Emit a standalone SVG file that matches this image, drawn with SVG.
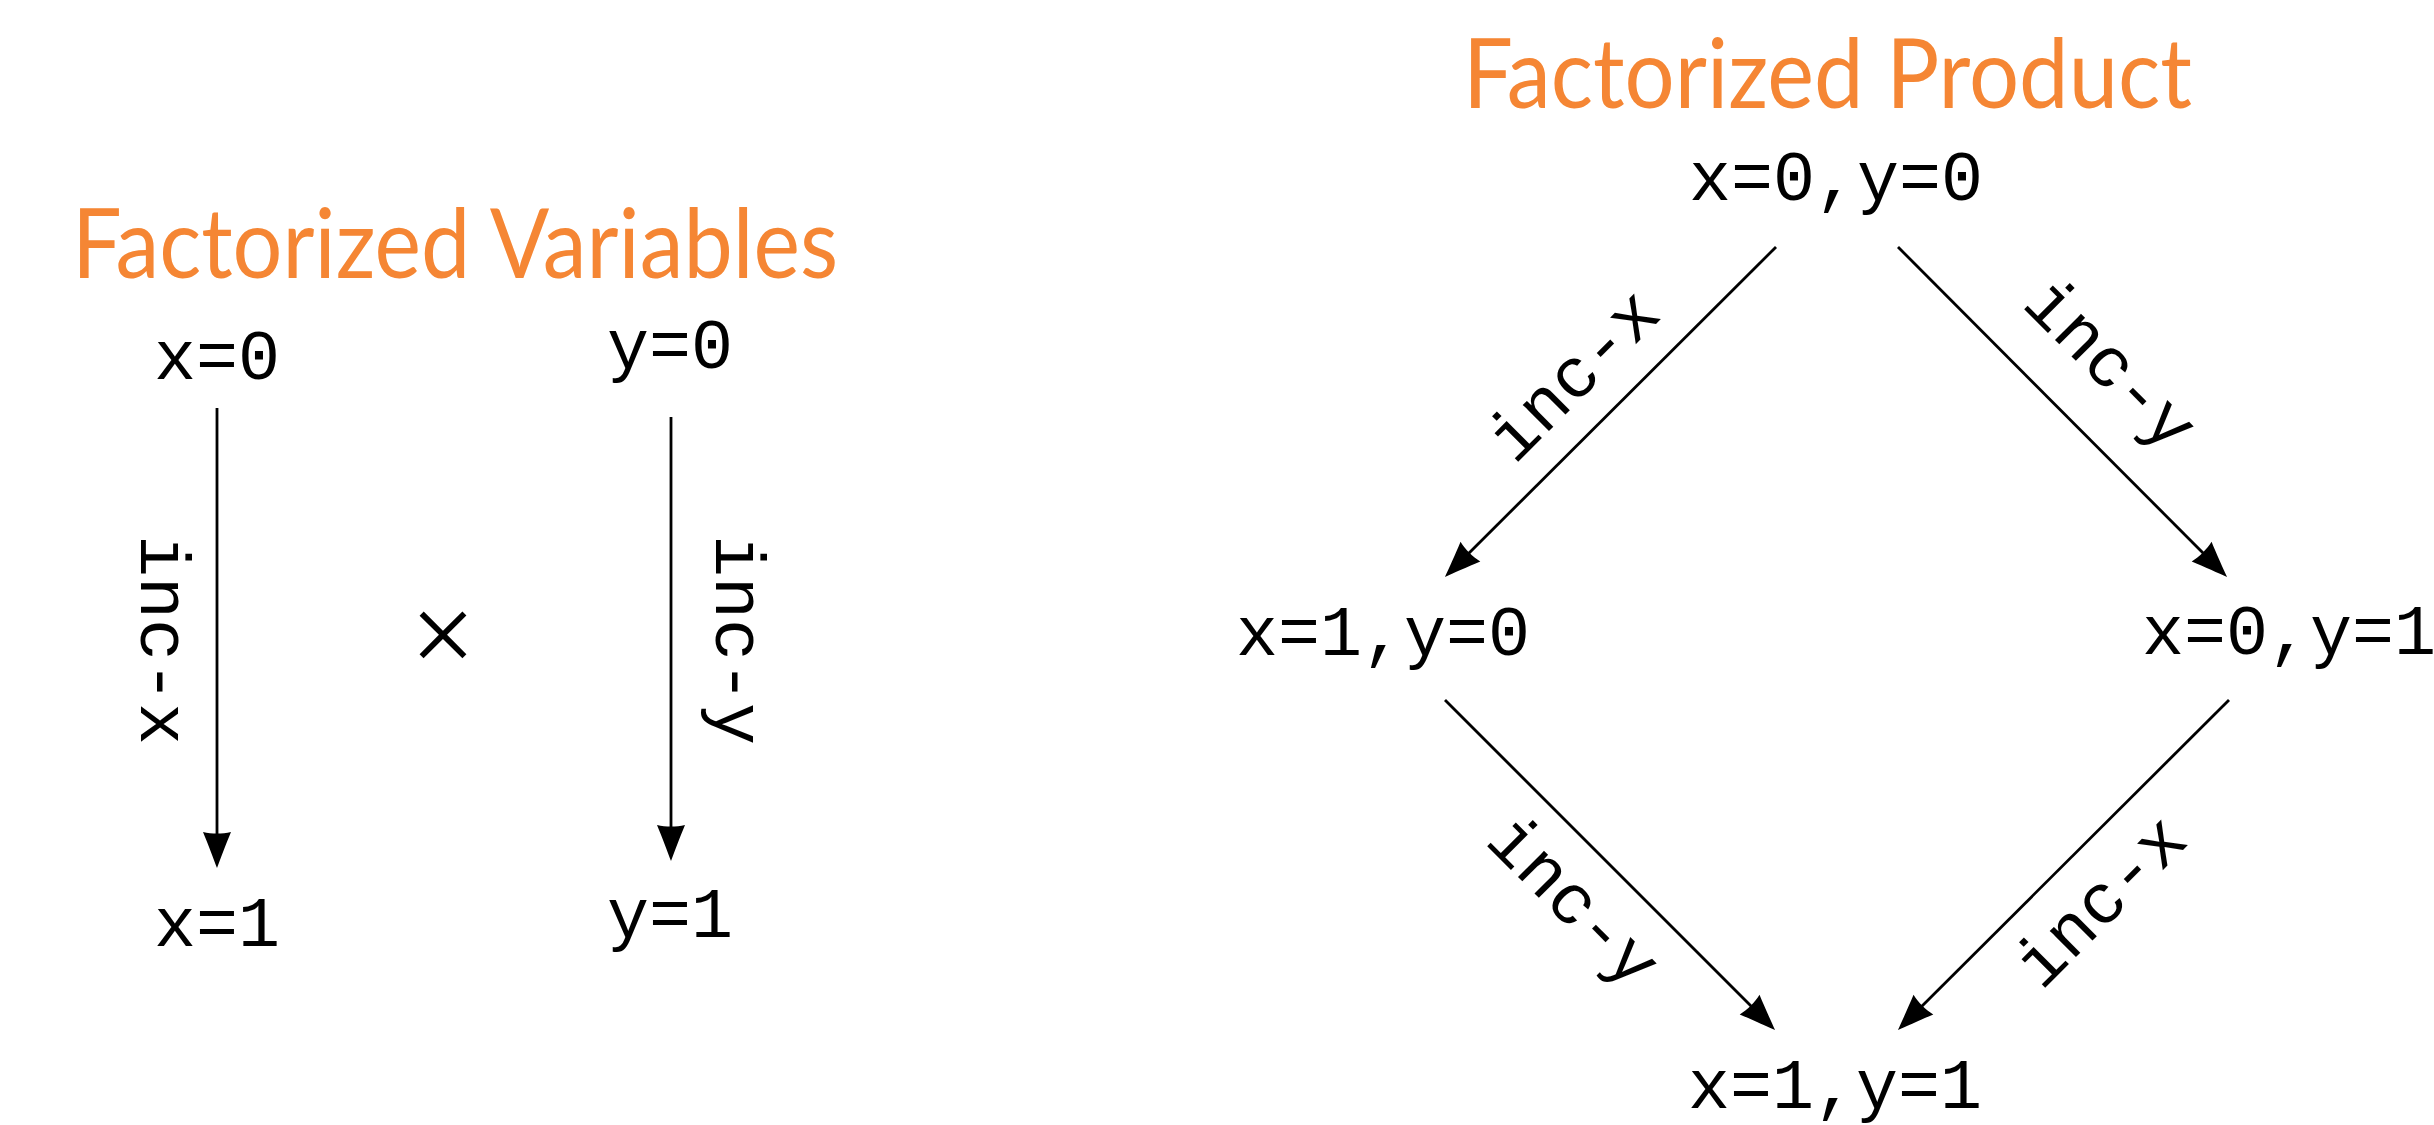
<svg xmlns="http://www.w3.org/2000/svg" width="2434" height="1125" viewBox="0 0 2434 1125">
<style>
.title{font-family:Lato,"Liberation Sans",sans-serif;font-size:97px;fill:#F58634}
.node{font-family:"Liberation Mono","DejaVu Sans Mono",monospace;font-size:70px;fill:#000;text-anchor:middle}
.lbl{font-family:"Liberation Mono","DejaVu Sans Mono",monospace;font-size:70px;fill:#000;text-anchor:middle}
.edge{stroke:#000;stroke-width:2.8;fill:none;marker-end:url(#ah)}
</style>
<defs>
<marker id="ah" markerUnits="userSpaceOnUse" markerWidth="50" markerHeight="40" viewBox="-30 -20 45 40" refX="0" refY="0" orient="auto">
<path d="M10,0 C2,-3 -14,-9 -26,-14 C-24,-5 -24,5 -26,14 C-14,9 2,3 10,0 Z" fill="#000"/>
</marker>
</defs>
<rect width="2434" height="1125" fill="#fff"/>
<g id="title-variables"><text class="title" x="72" y="278" textLength="766" lengthAdjust="spacingAndGlyphs">Factorized Variables</text></g>
<g id="title-product"><text class="title" x="1463" y="108" textLength="729" lengthAdjust="spacingAndGlyphs">Factorized Product</text></g>
<g id="n-x0"><text class="node" x="217" y="379">x=0</text></g>
<g id="n-x1"><text class="node" x="217" y="946">x=1</text></g>
<g id="n-y0"><text class="node" x="670" y="368">y=0</text></g>
<g id="n-y1"><text class="node" x="670" y="937">y=1</text></g>
<g id="times"><text x="443" y="673" style="font-family:'Liberation Serif',serif;font-size:115px;text-anchor:middle">×</text></g>
<g id="n-x0y0"><text class="node" x="1836" y="200">x=0,y=0</text></g>
<g id="n-x1y0"><text class="node" x="1383" y="655">x=1,y=0</text></g>
<g id="n-x0y1"><text class="node" x="2289" y="654">x=0,y=1</text></g>
<g id="n-x1y1"><text class="node" x="1835" y="1108">x=1,y=1</text></g>
<g id="connectors">
<line class="edge" x1="217" y1="408" x2="217" y2="858"/>
<line class="edge" x1="671" y1="417" x2="671" y2="851"/>
<line class="edge" x1="1776" y1="247" x2="1452" y2="570"/>
<line class="edge" x1="1898" y1="247" x2="2220" y2="570"/>
<line class="edge" x1="1445" y1="700" x2="1768" y2="1023"/>
<line class="edge" x1="2229" y1="700" x2="1905" y2="1023"/>
<text class="lbl" transform="translate(141,640) rotate(90)">inc-x</text>
<text class="lbl" transform="translate(716,640) rotate(90)">inc-y</text>
<text class="lbl" transform="translate(1589,391) rotate(-45)">inc-x</text>
<text class="lbl" transform="translate(2095,380) rotate(45)">inc-y</text>
<text class="lbl" transform="translate(1558,917) rotate(45)">inc-y</text>
<text class="lbl" transform="translate(2116,917) rotate(-45)">inc-x</text>
</g>
</svg>
